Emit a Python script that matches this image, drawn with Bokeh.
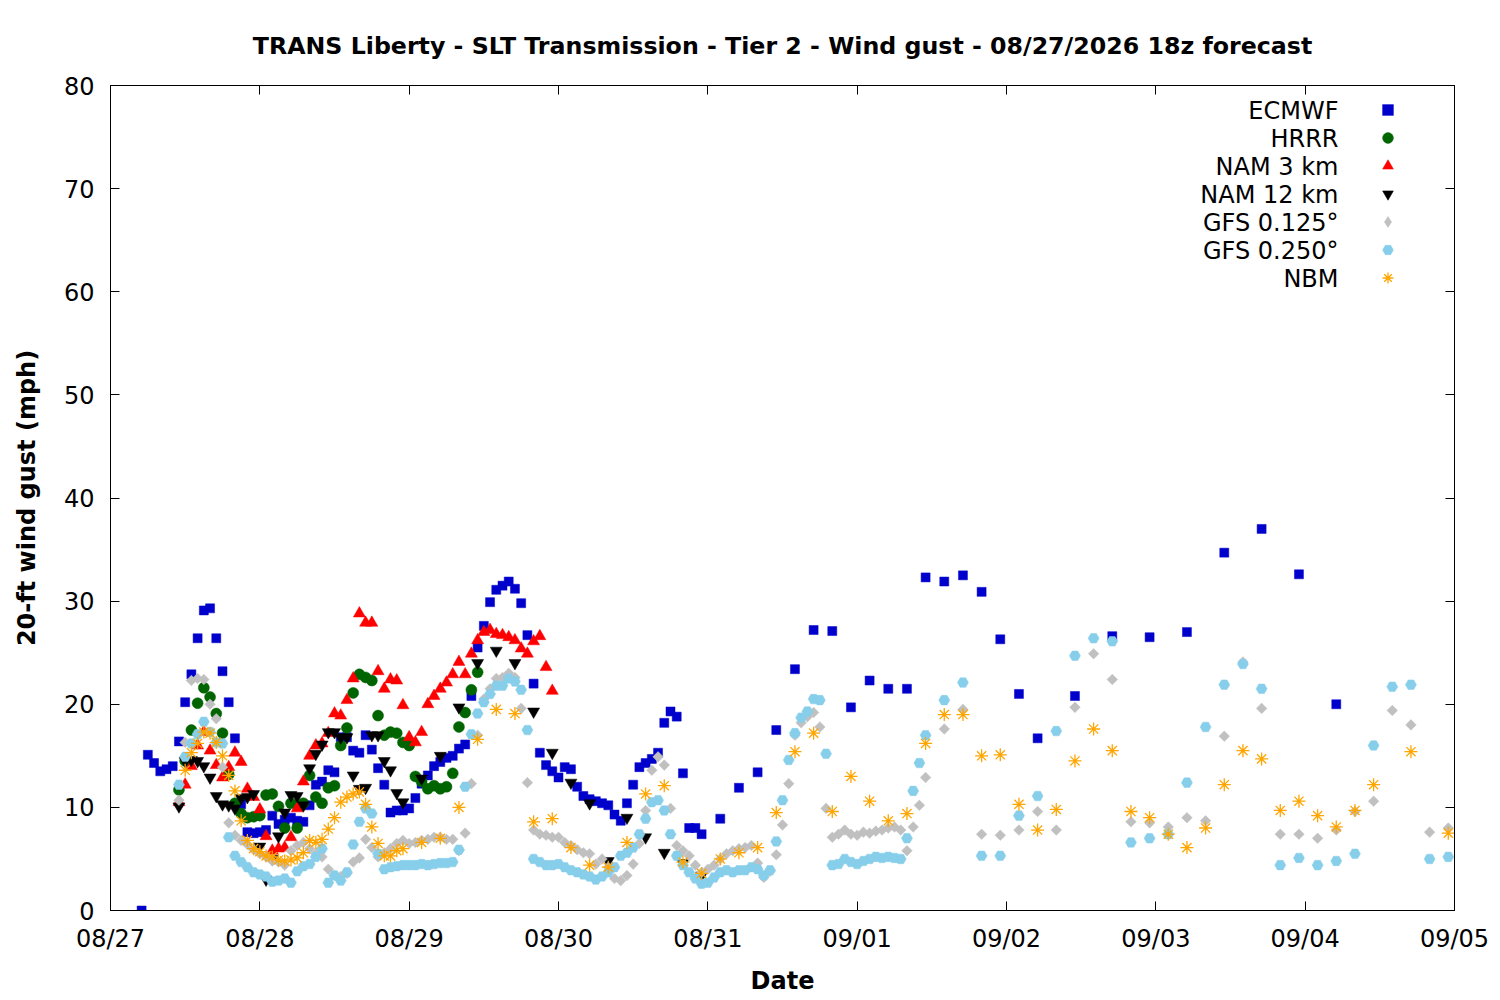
from datetime import datetime, timedelta

from bokeh.plotting import figure
from bokeh.models import (ColumnDataSource, Range1d, DaysTicker, DatetimeTickFormatter,
                          SingleIntervalTicker, LinearAxis, DatetimeAxis, Label,
                          Legend, LegendItem)
from bokeh.embed import file_html
from bokeh.resources import INLINE

# ---------------------------------------------------------------- data
title_text = "TRANS Liberty - SLT Transmission - Tier 2 - Wind gust - 08/27/2026 18z forecast"
x_label = "Date"
y_label = "20-ft wind gust (mph)"
start_day = datetime(2026, 8, 27)
n_days = 9
y_max = 80

# hours (local) after 08/27 00:00 : (first hour, step, count)
ecmwf_segments = [(5, 1, 91), (98, 3, 18), (155, 6, 8)]
ecmwf = [0.0, 15.1, 14.3, 13.5, 13.7, 14.0, 16.4, 20.2, 22.9, 26.4, 29.1, 29.3, 26.4, 23.2, 20.2, 16.7,
         10.3, 7.6, 7.5, 7.6, 7.8, 9.2, 8.4, 8.8, 9.0, 8.7,
         8.6, 10.2, 12.2, 12.5, 13.6, 13.4, 16.8, 16.8, 15.5, 15.3,
         17.0, 15.6, 13.8, 12.2, 9.5, 9.7, 9.7, 9.9, 10.9, 12.3,
         13.1, 14.0, 14.4, 14.8, 15.0, 15.7, 16.1, 20.8, 25.5, 27.6,
         29.9, 31.1, 31.5, 31.9, 31.2, 29.8, 26.7, 22.0, 15.3, 14.1,
         13.5, 12.9, 13.9, 13.7, 12.0, 11.1, 10.8, 10.6, 10.4, 10.2,
         9.3, 8.7, 10.4, 12.2, 13.9, 14.3, 14.7, 15.3, 18.2, 19.3,
         18.8, 13.3, 8.0, 8.0, 7.4,
         8.9, 11.9, 13.4, 17.5, 23.4, 27.2, 27.1, 19.7, 22.3, 21.5, 21.5, 32.3, 31.9, 32.5, 30.9,
         26.3, 21.0, 16.7,
         20.8, 26.6, 26.5, 27.0, 34.7, 37.0, 32.6, 20.0]

hrrr_segments = [(11, 1, 49)]
hrrr = [11.7, 14.5, 17.5, 20.1, 21.6, 20.7, 19.1, 17.2, 13.2, 10.4,
        9.4, 9.0, 9.1, 9.2, 11.2, 11.3, 10.1, 8.0, 10.4, 8.0,
        10.4, 13.1, 11.0, 10.4, 11.9, 12.1, 16.0, 17.7, 21.1, 22.9,
        22.6, 22.3, 18.9, 17.0, 17.3, 17.2, 16.3, 16.0, 13.0, 12.5,
        11.8, 12.1, 11.8, 12.0, 13.3, 17.8, 19.2, 21.4, 23.1]

nam3_segments = [(11, 1, 61)]
nam3 = [10.5, 12.2, 14.0, 16.0, 17.3, 15.5, 14.1, 12.9, 13.9, 15.3,
        14.4, 11.8, 11.0, 9.8, 7.2, 5.8, 6.0, 6.1, 7.1, 9.9,
        12.5, 15.0, 16.0, 16.2, 17.2, 19.1, 18.9, 20.4, 22.5, 28.8,
        27.9, 27.9, 23.2, 21.5, 22.4, 22.3, 19.9, 16.8, 16.3, 17.3,
        20.0, 20.8, 21.5, 22.1, 22.9, 24.1, 22.9, 24.9, 26.2, 27.0,
        27.2, 26.8, 26.7, 26.5, 26.2, 25.4, 24.9, 26.1, 26.6, 23.6,
        21.3]

nam12_segments = [(11, 1, 37), (50, 3, 16)]
nam12 = [10.1, 14.5, 14.6, 14.5, 14.0, 12.9, 11.1, 10.3, 10.2, 9.9,
         10.9, 11.0, 11.3, 6.2, 3.0, 5.0, 7.2, 9.5, 11.2, 11.1,
         10.2, 13.8, 15.2, 16.1, 17.3, 17.3, 16.8, 16.8, 13.1, 11.8,
         11.9, 17.0, 17.0, 14.5, 13.6, 11.4, 10.5,
         12.8, 15.0, 19.7, 24.0, 25.2, 24.0, 19.3, 15.3, 12.4, 10.4, 4.8, 9.0, 7.1, 5.6, 4.6, 3.4]

gfs_segments = [(11, 1, 121), (134, 3, 28)]
gfs0125 = [10.7, 16.3, 22.3, 22.5, 22.4, 20.0, 18.6, 13.9, 8.5, 7.3,
           6.8, 6.4, 5.9, 5.5, 5.2, 4.8, 4.7, 4.4, 5.8, 6.3,
           6.6, 6.0, 5.5, 5.2, 4.0, 3.4, 3.3, 3.6, 4.7, 5.1,
           6.9, 6.1, 5.2, 5.6, 6.0, 6.5, 6.8, 6.5, 6.6, 6.8,
           6.9, 7.1, 7.1, 6.9, 6.9, 5.8, 7.5, 12.3, 17.0, 20.5,
           21.5, 22.5, 22.6, 23.0, 22.6, 19.6, 12.4, 7.8, 7.4, 7.3,
           7.1, 7.1, 6.6, 6.3, 5.9, 5.6, 5.5, 4.5, 5.0, 4.2,
           3.1, 2.9, 3.4, 4.5, 6.5, 9.7, 13.6, 14.9, 14.1, 9.9,
           6.3, 5.8, 5.3, 4.4, 3.7, 4.0, 4.4, 5.0, 5.5, 5.8,
           6.0, 6.1, 6.3, 4.6, 3.2, 3.8, 5.4, 8.3, 12.3, 17.0,
           18.2, 18.8, 19.2, 17.8, 9.9, 7.1, 7.4, 7.8, 7.4, 7.3,
           7.6, 7.5, 7.7, 7.8, 8.0, 8.1, 7.8, 5.8, 8.1, 10.2,
           12.9,
           17.6, 19.5, 7.4, 7.3, 7.8, 9.6, 7.8, 19.7, 24.9, 22.4,
           8.6, 8.5, 8.1, 9.0, 8.7, 16.9, 24.1, 19.6, 7.4, 7.4,
           7.0, 7.8, 9.6, 10.6, 19.4, 18.0, 7.6, 8.0]

gfs0250 = [12.2, 14.9, 16.2, 17.1, 18.3, 17.3, 16.3, 16.2, 7.1, 5.3,
           4.7, 4.2, 3.7, 3.5, 3.3, 2.8, 2.9, 3.1, 2.7, 3.8,
           4.3, 4.5, 5.2, 6.0, 2.7, 3.4, 2.9, 3.7, 6.4, 8.6,
           9.9, 9.4, 5.5, 4.0, 4.2, 4.3, 4.4, 4.4, 4.4, 4.5,
           4.4, 4.5, 4.6, 4.6, 4.7, 5.9, 12.0, 17.1, 19.1, 20.2,
           21.0, 21.8, 21.8, 22.5, 22.2, 21.4, 17.5, 5.0, 4.7, 4.4,
           4.4, 4.5, 4.2, 3.9, 3.7, 3.5, 3.3, 3.0, 3.3, 3.7,
           4.2, 5.3, 5.6, 6.1, 7.4, 8.9, 10.5, 10.7, 9.7, 7.4,
           5.3, 4.4, 3.7, 3.1, 2.6, 2.7, 3.2, 3.7, 3.9, 3.7,
           3.9, 3.9, 4.2, 4.0, 3.4, 3.9, 6.7, 10.7, 14.6, 17.2,
           18.7, 19.3, 20.5, 20.4, 15.2, 4.4, 4.5, 5.0, 4.7, 4.5,
           4.8, 5.0, 5.2, 5.1, 5.2, 5.1, 5.0, 7.0, 11.6, 14.3,
           17.0,
           20.4, 22.1, 5.3, 5.3, 9.2, 11.1, 17.4, 24.7, 26.4, 26.1,
           6.6, 7.0, 7.4, 12.4, 17.8, 21.9, 23.9, 21.5, 4.4, 5.1,
           4.4, 4.8, 5.5, 16.0, 21.7, 21.9, 5.0, 5.2]

nbm_segments = [(12, 1, 36), (50, 3, 52), (209, 6, 2)]
nbm = [13.6, 15.3, 16.2, 17.3, 17.2, 16.3, 15.0, 13.1, 11.6, 8.7,
       6.8, 6.0, 5.7, 5.3, 5.2, 4.9, 4.8, 4.9, 5.1, 5.6,
       6.8, 6.6, 6.9, 7.9, 9.0, 10.5, 11.0, 11.3, 11.5, 10.3,
       8.1, 6.5, 5.3, 5.3, 5.8, 6.0,
       6.6, 7.0, 10.0, 16.6, 19.5, 19.1, 8.6, 8.9, 6.1, 4.4,
       4.2, 6.6, 11.3, 12.1, 4.7, 3.6, 5.0, 5.6, 6.1, 9.5,
       15.4, 17.2, 9.6, 13.0, 10.6, 8.7, 9.4, 16.2, 19.0, 19.0,
       15.0, 15.1, 10.3, 7.8, 9.8, 14.5, 17.6, 15.5, 9.6, 9.0,
       7.4, 6.1, 8.0, 12.2, 15.5, 14.7, 9.7, 10.6, 9.2, 8.1,
       9.7, 12.2,
       15.4, 7.5]

series_names = ["ECMWF", "HRRR", "NAM 3 km", "NAM 12 km", "GFS 0.125\u00b0", "GFS 0.250\u00b0", "NBM"]

# ---------------------------------------------------------------- helpers
FONT = "DejaVu Sans"
FS = "24px"


def times(segments):
    out = []
    for first, step, count in segments:
        out += [start_day + timedelta(hours=first + i * step) for i in range(count)]
    return out


styles = [
    dict(marker="square", size=9, color="#0000cc", angle=0.0, key="square"),
    dict(marker="circle", size=11, color="#006400", angle=0.0, key="circle"),
    dict(marker="triangle", size=12, color="#ff0000", angle=0.0, key="triangle"),
    dict(marker="inverted_triangle", size=12, color="#000000", angle=0.0, key="inverted_triangle"),
    dict(marker="square", size=7.5, color="#c0c0c0", angle=0.785398, key="diamond"),
    dict(marker="hex", size=11, color="#87ceeb", angle=0.0, key="hex"),
    dict(marker="asterisk", size=13, color="#ffa500", angle=0.0, key="asterisk"),
]
data_sets = [
    (ecmwf_segments, ecmwf),
    (hrrr_segments, hrrr),
    (nam3_segments, nam3),
    (nam12_segments, nam12),
    (gfs_segments, gfs0125),
    (gfs_segments, gfs0250),
    (nbm_segments, nbm),
]

# ---------------------------------------------------------------- figure
FW, FH = 1344, 825
p = figure(frame_width=FW, frame_height=FH,
           x_axis_type="datetime",
           x_range=Range1d(start_day, start_day + timedelta(days=n_days)),
           y_range=Range1d(0, y_max),
           output_backend="svg", toolbar_location=None,
           min_border_left=110, min_border_right=36,
           min_border_top=85, min_border_bottom=82,
           title=title_text)

p.title.text_font = FONT
p.title.text_font_size = "23.7px"
p.title.text_font_style = "bold"
p.title.text_color = "black"
p.title.align = "center"
p.title.standoff = 52

p.grid.visible = False
p.outline_line_color = "black"
p.outline_line_width = 1
p.background_fill_color = "white"
p.border_fill_color = "white"

day_ticker = DaysTicker(days=list(range(1, 32)))
day_fmt = DatetimeTickFormatter(days="%m/%d", months="%m/%d", hours="%m/%d")

for ax in (p.xaxis[0], p.yaxis[0]):
    ax.major_tick_in = 9
    ax.major_tick_out = 0
    ax.minor_tick_line_color = None
    ax.major_label_text_font = FONT
    ax.major_label_text_font_size = FS
    ax.major_label_text_color = "black"
    ax.axis_label_text_font = FONT
    ax.axis_label_text_font_size = FS
    ax.axis_label_text_font_style = "bold"
    ax.axis_label_text_color = "black"
    ax.axis_line_color = "black"
    ax.major_tick_line_color = "black"

p.xaxis[0].ticker = day_ticker
p.xaxis[0].formatter = day_fmt
p.xaxis[0].axis_label = x_label
p.xaxis[0].major_label_standoff = 14
p.xaxis[0].axis_label_standoff = 11

p.yaxis[0].ticker = SingleIntervalTicker(interval=10)
p.yaxis[0].axis_label = y_label
p.yaxis[0].major_label_standoff = 12
p.yaxis[0].axis_label_standoff = 20

# mirrored tick marks on top and right (no labels drawn)
top_ax = DatetimeAxis(ticker=day_ticker, formatter=day_fmt, major_tick_in=9, major_tick_out=0,
                      minor_tick_line_color=None, major_label_text_font_size="1px",
                      major_label_text_color=None, major_tick_line_color="black",
                      major_label_standoff=0, axis_line_color="black")
right_ax = LinearAxis(ticker=SingleIntervalTicker(interval=10), major_tick_in=9, major_tick_out=0,
                      minor_tick_line_color=None, major_label_text_font_size="1px",
                      major_label_text_color=None, major_tick_line_color="black",
                      major_label_standoff=0, axis_line_color="black")
p.add_layout(top_ax, "above")
p.add_layout(right_ax, "right")

# ---------------------------------------------------------------- series
key_renderers = []
for (segs, vals), st in zip(data_sets, styles):
    src = ColumnDataSource(dict(t=times(segs), v=vals))
    if st["marker"] == "asterisk":
        r = p.scatter("t", "v", source=src, marker="asterisk", size=st["size"],
                      line_color=st["color"], line_width=1.3)
    else:
        r = p.scatter("t", "v", source=src, marker=st["marker"], size=st["size"],
                      fill_color=st["color"], line_color=st["color"], line_width=0.5,
                      angle=st["angle"])
    if st["key"] != st["marker"]:
        # key symbol only (a single undrawn NaN row, so the legend has a glyph to show)
        key_src = ColumnDataSource(dict(t=[float("nan")], v=[float("nan")]))
        r = p.scatter("t", "v", source=key_src, marker=st["key"], fill_color=st["color"],
                      line_color=st["color"], line_width=0.5)
    key_renderers.append(r)

# ---------------------------------------------------------------- key (gnuplot style: text, then symbol)
GW = 27
PITCH = 28
top_row = FH - 25
legend = Legend(items=[LegendItem(label=" ", renderers=[r]) for r in key_renderers],
                location=(1264, top_row - 6 * PITCH - GW // 2),
                glyph_width=GW, glyph_height=GW, spacing=PITCH - GW,
                label_width=0, label_height=GW, label_standoff=0,
                label_text_font_size="10px", label_text_color=None,
                padding=0, margin=0,
                border_line_color=None, background_fill_alpha=0.0)
p.add_layout(legend, "center")

p.extra_x_ranges = {"key": Range1d(0, FW)}
p.extra_y_ranges = {"key": Range1d(0, FH)}
for i, name in enumerate(series_names):
    p.add_layout(Label(x=1228, y=top_row - i * PITCH, text=name,
                       x_range_name="key", y_range_name="key",
                       text_align="right", text_baseline="middle",
                       text_font=FONT, text_font_size=FS, text_color="black"))

open("out.html", "w").write(file_html(p, INLINE))
